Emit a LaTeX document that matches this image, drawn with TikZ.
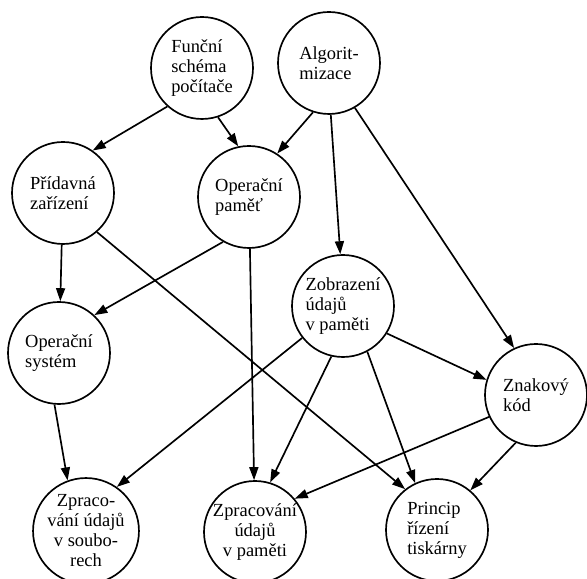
\documentclass[tikz,border=0pt]{standalone}
\usepackage{fontspec}
\setmainfont{Liberation Serif}
\usetikzlibrary{arrows.meta}
\tikzset{
  topic/.style={circle,draw=black,line width=0.95pt,inner sep=0pt,minimum size=2.04cm,
    font=\fontsize{10.5}{11.4}\selectfont,align=left},
  link/.style={line width=0.95pt,-{Triangle[length=2.6mm,width=1.8mm]}}
}
\begin{document}
\begin{tikzpicture}
\useasboundingbox (0,0) rectangle (11.74,11.58);
% Top row
\draw (4.04,10.22) node(nfun)[topic] {Funční\\schéma\\počítače};
\draw (6.58,10.32) node(nalg)[topic] {Algorit-\\mizace};
% Second row
\draw (1.26,7.72) node(nprid)[topic] {Přídavná\\zařízení};
\draw (4.98,7.64) node(nopam)[topic] {Operační\\paměť};
% Middle
\draw (6.86,5.46) node(nzobr)[topic] {Zobrazení\\údajů\\v paměti};
\draw (1.18,4.52) node(nosys)[topic] {Operační\\systém};
\draw (10.72,3.68) node(nznak)[topic] {Znakový\\kód};
% Bottom row
\draw (1.72,0.96) node(nsoub)[topic,align=center] {Zpraco-\\vání údajů\\v soubo-\\rech};
\draw (5.10,0.94) node(nzpam)[topic,align=center] {Zpracování\\údajů\\v paměti};
\draw (8.74,0.98) node(ntisk)[topic] {Princip\\řízení\\tiskárny};
% Arrows from the top
\draw[link] (nfun.228) -- (nprid.55);
\draw[link] (nfun.288) -- (nopam.102);
\draw[link] (nalg.252) -- (nopam.57);
\draw[link] (nalg.272) -- (nzobr.93);
\draw[link] (nalg.300) -- (nznak.115);
% Arrows from the second row
\draw[link] (nprid) -- (nosys);
\draw[link] (nprid.311) -- (ntisk.128);
\draw[link] (nopam.240) -- (nosys.47);
\draw[link] (nopam) -- (nzpam);
% Arrows from the middle
\draw[link] (nzobr.218) -- (nsoub.55);
\draw[link] (nzobr.257) -- (nzpam.73);
\draw[link] (nzobr.298) -- (ntisk.115);
\draw[link] (nzobr.328) -- (nznak.163);
\draw[link] (nosys.265) -- (nsoub.110);
\draw[link] (nznak.205) -- (nzpam.40);
\draw[link] (nznak.247) -- (ntisk.50);
\end{tikzpicture}
\end{document}
